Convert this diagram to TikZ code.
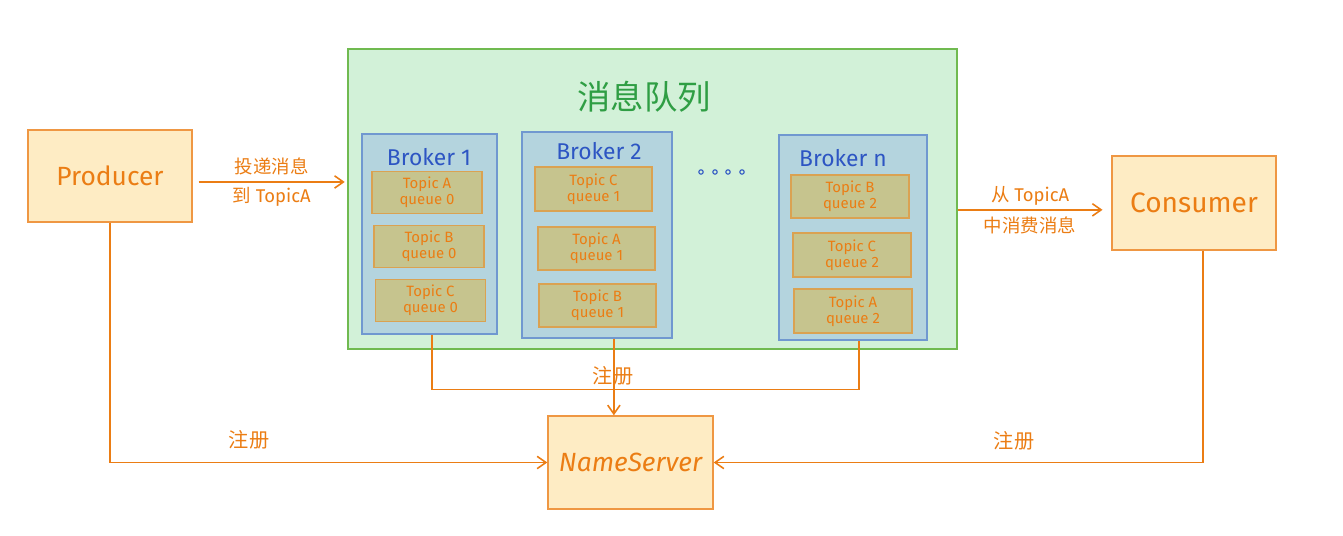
\documentclass[tikz,border=0pt]{standalone}
\usepackage{fontspec}
\setmainfont{Fira Sans}
\newfontfamily\cjk{Noto Sans CJK SC}
\usetikzlibrary{arrows.meta}
\definecolor{tangerine}{RGB}{235,125,20}
\definecolor{peach}{RGB}{254,236,196}
\definecolor{mint}{RGB}{210,241,216}
\definecolor{fern}{RGB}{112,186,80}
\definecolor{forest}{RGB}{47,158,68}
\definecolor{sky}{RGB}{180,212,222}
\definecolor{steel}{RGB}{112,152,208}
\definecolor{cobalt}{RGB}{45,85,195}
\definecolor{olive}{RGB}{198,196,142}
\definecolor{sand}{RGB}{218,162,82}

\begin{document}
\begin{tikzpicture}[x=0.02cm, y=-0.02cm,
    actor/.style  ={draw=tangerine!80, fill=peach, line width=0.8pt, text=tangerine,
                    font=\fontsize{15}{18}\selectfont},
    broker/.style ={draw=steel, fill=sky, line width=0.7pt},
    queuebox/.style={draw=sand, fill=olive, line width=0.7pt, text=tangerine, align=center,
                    minimum width=2.3cm, minimum height=0.86cm, font=\fontsize{8.5}{9}\selectfont},
    title/.style  ={text=cobalt, font=\fontsize{13}{15}\selectfont},
    wire/.style   ={draw=tangerine, line width=0.9pt},
    flow/.style   ={wire, -{Straight Barb[length=5pt,width=7pt]}},
    note/.style   ={text=tangerine, font=\fontsize{10.5}{12}\selectfont}]
    \useasboundingbox (0,0) rectangle (1343,536);

    % clients and name server
    \node[actor, minimum width=3.28cm, minimum height=1.84cm]              (producer)   at ( 110.0, 176.0) {Producer};
    \node[actor, minimum width=3.28cm, minimum height=1.88cm,
          font=\fontsize{16}{18}\selectfont]                                (consumer)   at (1194.0, 203.0) {Consumer};
    \node[actor, minimum width=3.30cm, minimum height=1.86cm,
          font=\fontsize{15}{18}\selectfont\itshape]                        (nameserver) at ( 630.5, 462.5) {NameServer};

    % message queue with brokers
    \node[draw=fern, fill=mint, line width=0.8pt, minimum width=12.18cm, minimum height=6.00cm] (mq) at (652.5, 199.0) {};
    \node[text=forest, font=\cjk\fontsize{19}{22}\selectfont]               (mqtitle)    at ( 644.0,  97.0) {消息队列};

    \node[broker, minimum width=2.70cm, minimum height=4.00cm]             (broker1)    at ( 429.5, 234.0) {};
    \node[broker, minimum width=3.00cm, minimum height=4.12cm]             (broker2)    at ( 597.0, 235.0) {};
    \node[broker, minimum width=2.96cm, minimum height=4.10cm]             (brokern)    at ( 853.0, 237.5) {};
    \node[title]                                                           (b1title)    at ( 429.0, 157.0) {Broker 1};
    \node[title]                                                           (b2title)    at ( 599.0, 151.0) {Broker 2};
    \node[title]                                                           (bntitle)    at ( 843.0, 158.0) {Broker n};

    \node[queuebox, minimum width=2.20cm, minimum height=0.82cm]           (q1a)        at ( 427.0, 192.5) {Topic A\\queue 0};
    \node[queuebox, minimum width=2.20cm, minimum height=0.82cm]           (q1b)        at ( 429.0, 246.5) {Topic B\\queue 0};
    \node[queuebox, minimum width=2.20cm, minimum height=0.82cm]           (q1c)        at ( 430.5, 300.5) {Topic C\\queue 0};
    \node[queuebox, minimum width=2.34cm, minimum height=0.88cm]           (q2c)        at ( 593.5, 189.0) {Topic C\\queue 1};
    \node[queuebox, minimum width=2.34cm]                                  (q2a)        at ( 596.5, 248.5) {Topic A\\queue 1};
    \node[queuebox, minimum width=2.34cm]                                  (q2b)        at ( 597.5, 305.5) {Topic B\\queue 1};
    \node[queuebox, minimum width=2.36cm]                                  (qnb)        at ( 850.0, 196.5) {Topic B\\queue 2};
    \node[queuebox, minimum width=2.36cm, minimum height=0.88cm]           (qnc)        at ( 852.0, 255.0) {Topic C\\queue 2};
    \node[queuebox, minimum width=2.36cm, minimum height=0.88cm]           (qna)        at ( 853.0, 311.0) {Topic A\\queue 2};

    \foreach \dx [count=\i] in {701,715,728,742}
        \draw[cobalt, line width=0.6pt] (\dx,172) circle (2.2);

    % produce and consume
    \coordinate (pout) at ([xshift=3.4pt, yshift=-3.4pt]producer.east);
    \draw[flow] (pout) -- ([xshift=-1.5pt]pout -| mq.west)
        node[note, midway, above=0pt]   {\cjk 投递消息}
        node[note, midway, below=-1pt]  {{\cjk 到} TopicA};
    \coordinate (cin) at ([yshift=-3.9pt]consumer.west);
    \draw[flow] (cin -| mq.east) -- ([xshift=-5pt]cin)
        node[note, midway, above=-1pt]  {{\cjk 从} TopicA}
        node[note, midway, below=0pt]   {\cjk 中消费消息};

    % registration with the name server
    \draw[wire] ([xshift=1.4pt]broker1.south) -- ++(0,55) coordinate (busl) -| ([xshift=3.4pt]brokern.south);
    \coordinate (b2out) at ([xshift=9.6pt]broker2.south);
    \draw[flow] (b2out) -- (b2out |- nameserver.north);
    \node[note, font=\cjk\fontsize{11.5}{13}\selectfont] (reg1) at (613,376) {注册};
    \draw[flow] (producer.south) |- (nameserver.west);
    \node[note, font=\cjk\fontsize{11.5}{13}\selectfont] (reg2) at (249,440) {注册};
    \draw[flow] ([xshift=5pt]consumer.south) |- (nameserver.east);
    \node[note, font=\cjk\fontsize{11.5}{13}\selectfont] (reg3) at (1014,441) {注册};
\end{tikzpicture}
\end{document}
